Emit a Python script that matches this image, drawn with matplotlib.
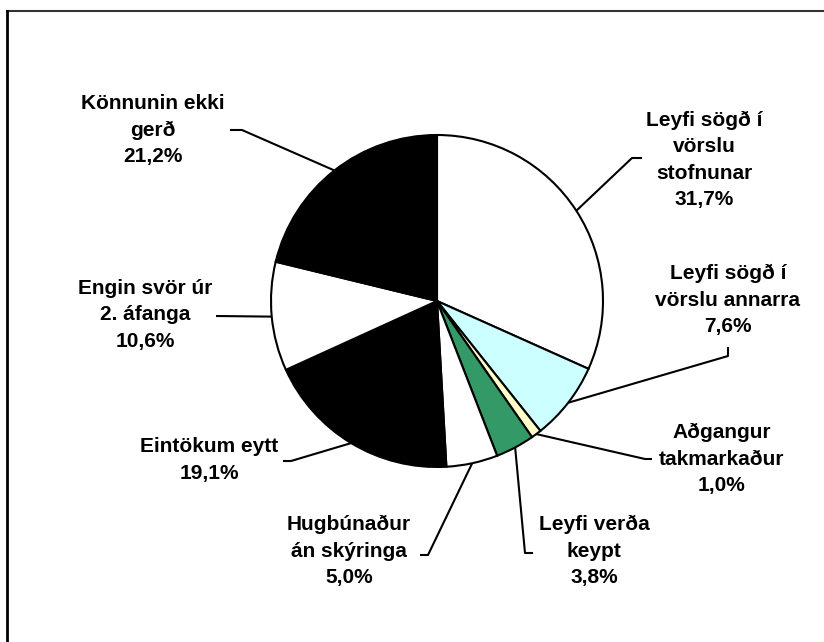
import matplotlib.pyplot as plt
import numpy as np

# sneiðar réttsælis frá kl. 12
labels = ['Leyfi sögð í\nvörslu\nstofnunar', 'Leyfi sögð í\nvörslu annarra',
          'Aðgangur\ntakmarkaður', 'Leyfi verða\nkeypt', 'Hugbúnaður\nán skýringa',
          'Eintökum eytt', 'Engin svör úr\n2. áfanga', 'Könnunin ekki\ngerð']
values = [31.7, 7.6, 1.0, 3.8, 5.0, 19.1, 10.6, 21.2]
colors = ['white', '#CCFFFF', '#FFFFCC', '#339966', 'white', 'black', 'white', 'black']

# staðsetning merkja (pixlar, y frá toppi) og brotpunktar leiðarlína
label_pos = [(704, 160), (728, 300), (722, 459), (594, 551),
             (349, 551), (209, 460), (145, 315), (153, 130)]
leader_pts = [
    [(642, 158), (632, 158)],
    [(728, 347), (728, 356)],
    [(652, 459), (645, 459)],
    [(533, 553), (525, 553)],
    [(420, 555), (428, 555)],
    [(283, 461), (291, 461)],
    [(216, 316)],
    [(230, 130), (242, 130)],
]

W, H = 824, 642
cx, cy, r = 437, H - 301, 166

fig = plt.figure(figsize=(8.24, 6.42), dpi=100)
ax = fig.add_axes([0, 0, 1, 1])

wedges, _ = ax.pie(values, colors=colors, startangle=90, counterclock=False,
                   center=(cx, cy), radius=r,
                   wedgeprops=dict(edgecolor='black', linewidth=1.5))

for w, lab, val, (lx, ly), pts in zip(wedges, labels, values, label_pos, leader_pts):
    mid = np.deg2rad((w.theta1 + w.theta2) / 2)
    ex, ey = cx + r * np.cos(mid), cy + r * np.sin(mid)
    xs = [p[0] for p in pts] + [ex]
    ys = [H - p[1] for p in pts] + [ey]
    ax.plot(xs, ys, color='black', linewidth=1.5, solid_capstyle='butt')
    txt = lab + '\n' + f'{val:.1f}%'.replace('.', ',')
    ax.text(lx, H - ly, txt, ha='center', va='center', fontsize=15,
            fontweight='bold', family='Liberation Sans', linespacing=1.5)

# rammi (efri og vinstri brún)
ax.plot([7, W], [H - 11, H - 11], color='#333333', linewidth=1.5)
ax.plot([7, 7], [0, H - 11], color='black', linewidth=2)

ax.set_xlim(0, W)
ax.set_ylim(0, H)
ax.set_aspect('auto')
ax.axis('off')

plt.savefig('out.png', dpi=100)
